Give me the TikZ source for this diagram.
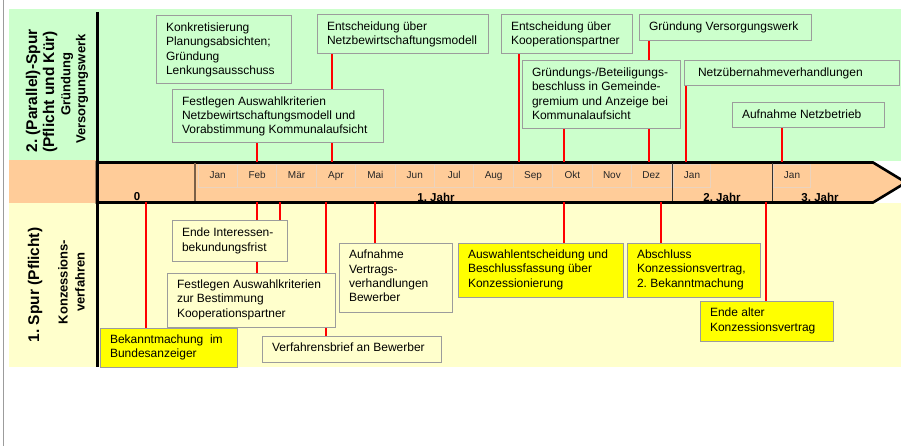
\documentclass[tikz,border=0pt]{standalone}
\usepackage{fontspec}
\setmainfont{Liberation Sans}
\frenchspacing
\definecolor{bgGreen}{HTML}{CCFFCC}
\definecolor{bgPeach}{HTML}{FFCC99}
\definecolor{bgCream}{HTML}{FFFFCC}
\definecolor{boxYellow}{HTML}{FFFF00}
\definecolor{boxBorder}{HTML}{9C9C9C}
\definecolor{cellBorder}{HTML}{EBD3BE}
\definecolor{conRed}{HTML}{FF0000}
\definecolor{divBrown}{HTML}{7A6048}
\newcommand\boxlines[2]{\makebox[#1][l]{\begin{tabular}{@{}l@{}}#2\end{tabular}}}
\pgfdeclarelayer{backlayer}
\pgfdeclarelayer{linelayer}
\pgfsetlayers{backlayer,linelayer,main}
\tikzset{
  ebox/.style={draw=boxBorder, line width=1pt, inner xsep=10pt, inner ysep=2pt, outer sep=0pt,
    anchor=north west, font=\fontsize{12}{14.3}\selectfont},
  gbox/.style={ebox, fill=bgGreen},
  cbox/.style={ebox, fill=bgCream},
  ybox/.style={ebox, fill=boxYellow},
  conn/.style={draw=conRed, line width=1.8pt},
  mcell/.style={draw=cellBorder, line width=0.9pt, fill=bgPeach, anchor=north west,
    minimum width=39.4pt, minimum height=23pt, inner sep=0pt, outer sep=0pt,
    text height=8.5pt, text depth=1.5pt,
    font=\fontsize{10}{12}\selectfont, text=black!85},
  yearlbl/.style={anchor=base, inner sep=0pt, font=\bfseries\fontsize{11.5}{13}\selectfont},
  biglbl/.style={rotate=90, font=\bfseries\fontsize{15.5}{17}\selectfont},
  smalllbl/.style={rotate=90, font=\bfseries\fontsize{13}{15}\selectfont},
}
\begin{document}
\begin{tikzpicture}[x=1pt,y=-1pt]
\useasboundingbox (0,0) rectangle (901,446);
\begin{pgfonlayer}{backlayer}
  \fill[white] (0,0) rectangle (901,446);
  \draw[boxBorder, line width=1pt] (3.5,0) -- (3.5,446);
  \fill[bgGreen] (9,9) rectangle (901,161);
  \fill[bgPeach] (9,160) rectangle (97,203);
  \fill[bgCream] (9,203) rectangle (901,367);
  \draw[line width=2.6pt, fill=bgPeach, line join=miter]
    (97,162.5) -- (873,162.5) -- (906,182.5) -- (873,202.5) -- (97,202.5) -- cycle;
  \draw[line width=2.6pt] (97.5,12) -- (97.5,367);
  \draw[divBrown, line width=1.2pt] (195,163.5) -- (195,201.5);
  \draw[black!80, line width=1pt] (672,163.5) -- (672,201.5);
  \draw[black!80, line width=1pt] (772,163.5) -- (772,201.5);
\end{pgfonlayer}

% month cells
\foreach \m [count=\i from 0] in {Jan,Feb,Mär,Apr,Mai,Jun,Jul,Aug,Sep,Okt,Nov,Dez}
  \node[mcell] (mon\i) at ({198+39.42*\i},164) {\m};
\node[mcell, minimum width=37pt] (monA) at (673.5,164) {Jan};
\node[mcell, minimum width=37pt] (monB) at (773.5,164) {Jan};

% year labels
\node[yearlbl] (y0) at (137,200.5) {0};
\node[yearlbl] (y1) at (436,201.5) {1. Jahr};
\node[yearlbl] (y2) at (722,202) {2. Jahr};
\node[yearlbl] (y3) at (820,202) {3. Jahr};

% left labels
\node[biglbl] (l1) at (33,91) {2. (Parallel)-Spur};
\node[biglbl] (l2) at (50,92) {(Pflicht und Kür)};
\node[smalllbl] (l3) at (67,84) {Gründung};
\node[smalllbl] (l4) at (82,89) {Versorgungswerk};
\node[biglbl] (l5) at (35,285) {1. Spur (Pflicht)};
\node[smalllbl] (l6) at (63,282) {Konzessions-};
\node[smalllbl] (l7) at (80,282) {verfahren};

% top boxes
\node[gbox, minimum width=135pt, minimum height=68pt] (t1) at (156,16)
  {\boxlines{115pt}{Konkretisierung\\Planungsabsichten;\\Gründung\\Lenkungsausschuss}};
\node[gbox, minimum width=211pt, minimum height=53pt] (t2) at (172,90)
  {\boxlines{191pt}{Festlegen Auswahlkriterien\\Netzbewirtschaftungsmodell und\\Vorabstimmung Kommunalaufsicht}};
\node[gbox, minimum width=171pt, minimum height=39pt] (t3) at (317,15)
  {\boxlines{151pt}{Entscheidung über\\Netzbewirtschaftungsmodell}};
\node[gbox, minimum width=131pt, minimum height=39pt] (t4) at (501,15)
  {\boxlines{111pt}{Entscheidung über\\Kooperationspartner}};
\node[gbox, minimum width=158pt, minimum height=68pt] (t5) at (522,61)
  {\boxlines{138pt}{Gründungs-/Beteiligungs-\\beschluss in Gemeinde-\\gremium und Anzeige bei\\Kommunalaufsicht}};
\node[gbox, minimum width=172pt, minimum height=26pt] (t6) at (639,15)
  {\boxlines{152pt}{Gründung Versorgungswerk}};
\node[gbox, minimum width=215pt, minimum height=25pt, inner xsep=14pt] (t7) at (684,61)
  {\boxlines{187pt}{Netzübernahmeverhandlungen}};
\node[gbox, minimum width=152pt, minimum height=25pt] (t8) at (732,103)
  {\boxlines{132pt}{Aufnahme Netzbetrieb}};

% bottom boxes
\node[ybox, minimum width=137pt, minimum height=39pt] (ba) at (100,328)
  {\boxlines{117pt}{Bekanntmachung\ \ im\\Bundesanzeiger}};
\node[cbox, minimum width=115pt, minimum height=40pt] (bb) at (172,221)
  {\boxlines{95pt}{Ende Interessen-\\bekundungsfrist}};
\node[cbox, minimum width=168pt, minimum height=54pt] (bc) at (167,273)
  {\boxlines{148pt}{Festlegen Auswahlkriterien\\zur Bestimmung\\Kooperationspartner}};
\node[cbox, minimum width=179pt, minimum height=26pt] (bd) at (262,336)
  {\boxlines{159pt}{Verfahrensbrief an Bewerber}};
\node[cbox, minimum width=113pt, minimum height=69pt] (be) at (339,243)
  {\boxlines{93pt}{Aufnahme\\Vertrags-\\verhandlungen\\Bewerber}};
\node[ybox, minimum width=165pt, minimum height=54pt] (bf) at (458,243)
  {\boxlines{145pt}{Auswahlentscheidung und\\Beschlussfassung über\\Konzessionierung}};
\node[ybox, minimum width=133pt, minimum height=54pt] (bg) at (627,243)
  {\boxlines{113pt}{Abschluss\\Konzessionsvertrag,\\2. Bekanntmachung}};
\node[ybox, minimum width=133pt, minimum height=40pt] (bh) at (700,301)
  {\boxlines{113pt}{Ende alter\\Konzessionsvertrag}};

% timeline anchor points
\coordinate (aFeb) at (257,162.5);
\coordinate (aApr) at (332,162.5);
\coordinate (aSep) at (519,162.5);
\coordinate (aOkt) at (564,162.5);
\coordinate (aDez) at (649,162.5);
\coordinate (aJanB) at (686,162.5);
\coordinate (aJanC) at (782,162.5);
\coordinate (bNull) at (146,202.5);
\coordinate (bFeb) at (257,202.5);
\coordinate (bMar) at (280,202.5);
\coordinate (bApr) at (326,202.5);
\coordinate (bMai) at (375,202.5);
\coordinate (bOkt) at (564,202.5);
\coordinate (bDez) at (661,202.5);
\coordinate (bEnd) at (766,202.5);

\begin{pgfonlayer}{linelayer}
  \draw[conn] (t2.south -| aFeb) -- (aFeb);
  \draw[conn] (t3.south -| aApr) -- (aApr);
  \draw[conn] (t4.south -| aSep) -- (aSep);
  \draw[conn] (t5.south -| aOkt) -- (aOkt);
  \draw[conn] (t6.south -| aDez) -- (aDez);
  \draw[conn] (t7.south -| aJanB) -- (aJanB);
  \draw[conn] (t8.south -| aJanC) -- (aJanC);
  \draw[conn] (bNull) -- (ba.north -| bNull);
  \draw[conn] (bFeb) -- (bc.north -| bFeb);
  \draw[conn] (bMar) -- (bb.north -| bMar);
  \draw[conn] (bApr) -- (bd.north -| bApr);
  \draw[conn] (bMai) -- (be.north -| bMai);
  \draw[conn] (bOkt) -- (bf.north -| bOkt);
  \draw[conn] (bDez) -- (bg.north -| bDez);
  \draw[conn] (bEnd) -- (bh.north -| bEnd);
\end{pgfonlayer}
\end{tikzpicture}
\end{document}
